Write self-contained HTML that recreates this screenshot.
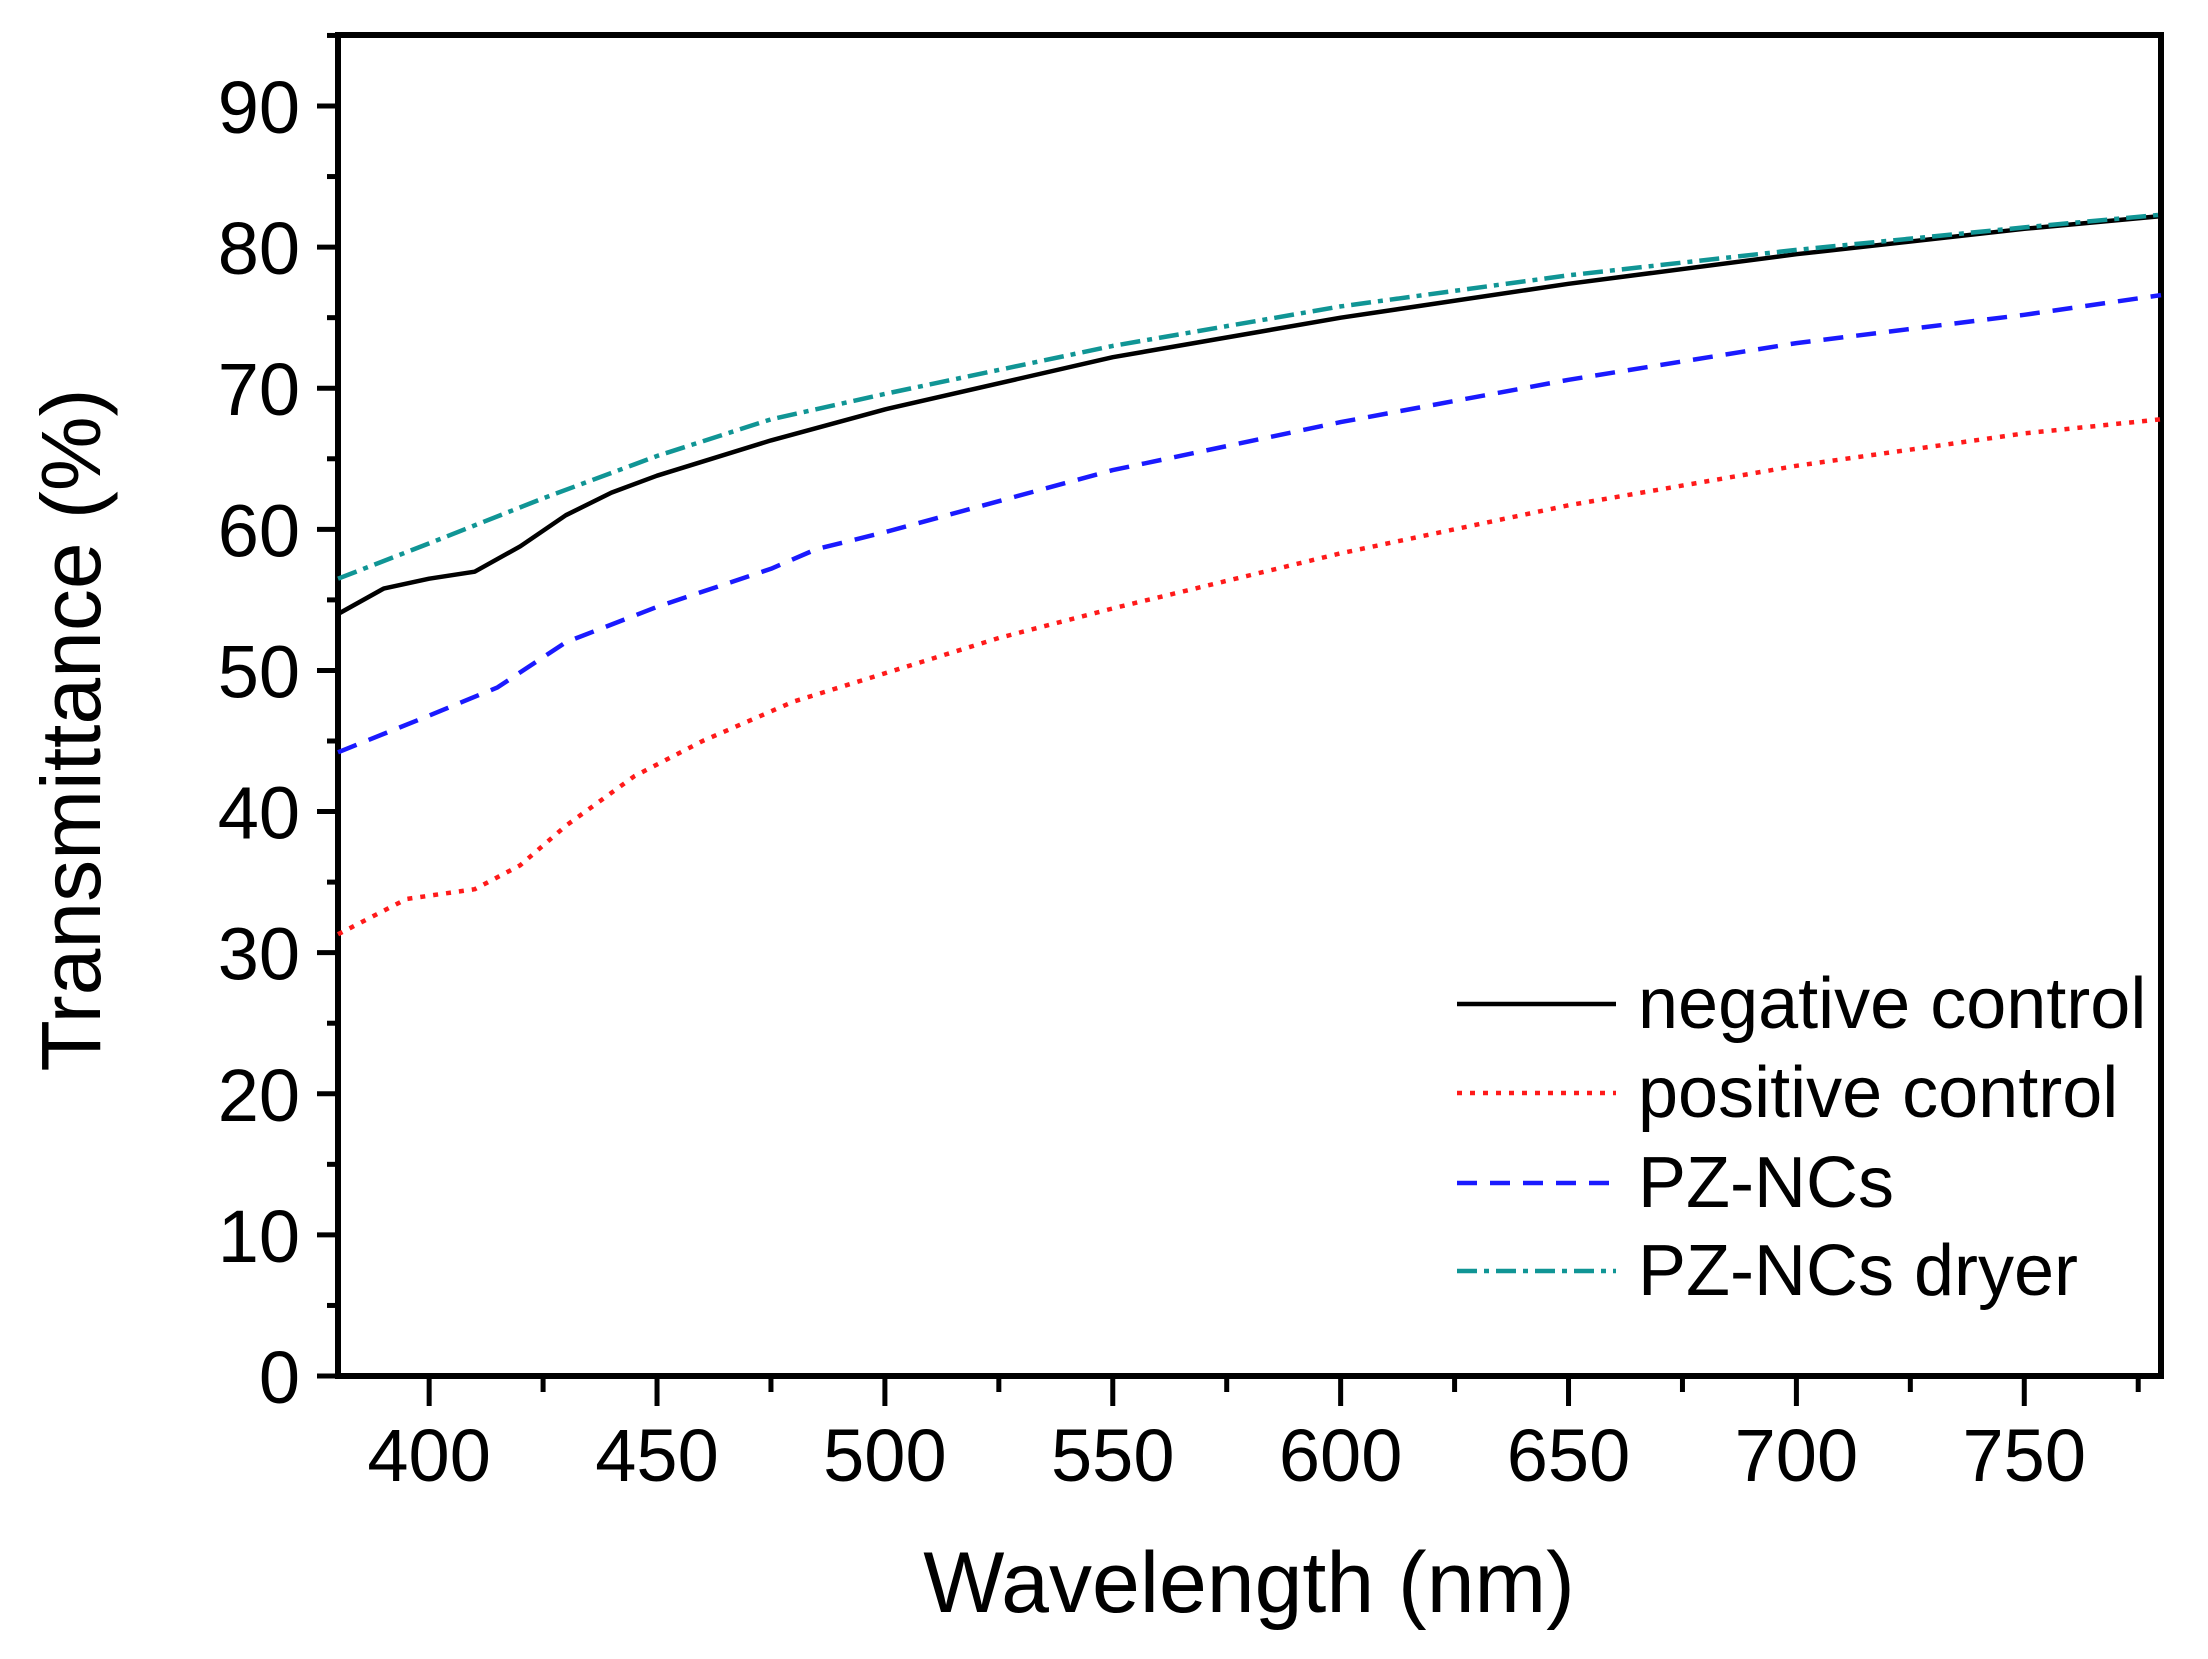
<!DOCTYPE html>
<html><head><meta charset="utf-8"><style>
html,body{margin:0;padding:0;background:#fff;}
svg{display:block;font-family:"Liberation Sans",Arial,sans-serif;}
</style></head><body>
<svg id="chart" width="2208" height="1659" viewBox="0 0 2208 1659">
<g id="axes"></g><g id="series"></g><g id="legend"></g>
<text x="1249" y="1612" font-size="86" text-anchor="middle">Wavelength (nm)</text>
<text x="0" y="0" font-size="84" text-anchor="middle" transform="translate(100,730) rotate(-90)">Transmittance (%)</text>
</svg>
<script>
const xTicks=[400,450,500,550,600,650,700,750];
const yTicks=[0,10,20,30,40,50,60,70,80,90];
const wlNeg=[380,390,400,410,420,430,440,450,475,500,550,600,650,700,750,780];
const negative=[54,55.8,56.5,57,58.8,61,62.6,63.8,66.3,68.5,72.2,75,77.4,79.5,81.3,82.2];
const wlDry=[380,400,425,450,475,500,550,600,650,700,750,780];
const dryer=[56.5,59,62.2,65.2,67.8,69.6,73,75.8,78,79.8,81.4,82.3];
const wlPz=[380,400,415,430,450,475,485,500,550,600,650,700,750,780];
const pzncs=[44.2,46.8,48.8,52,54.5,57.2,58.6,59.8,64.2,67.6,70.6,73.2,75.2,76.6];
const wlPos=[380,395,410,420,430,445,460,480,500,525,550,600,650,700,750,780];
const positive=[31.3,33.8,34.5,36.2,39,42.5,45,47.8,49.8,52.3,54.4,58.3,61.7,64.5,66.8,67.8];
const legendLabels=["negative control","positive control","PZ-NCs","PZ-NCs dryer"];

const L=338,R=2161,T=35,B=1376;
const xs=v=>L+(v-380)*(R-L)/400;
const ys=v=>B-v*(B-106)/90;
const NS="http://www.w3.org/2000/svg";
function mk(tag,attrs,parent){const e=document.createElementNS(NS,tag);for(const k in attrs)e.setAttribute(k,attrs[k]);parent.appendChild(e);return e;}
const ax=document.getElementById('axes');
const frame=mk('rect',{x:L,y:T,width:R-L,height:B-T,fill:'none',stroke:'#000','stroke-width':6},ax);


xTicks.forEach(t=>{
  const ln=mk('line',{x1:xs(t),x2:xs(t),y1:B,y2:B+30,stroke:'#000','stroke-width':5},ax);
  
  
  if(t+25<780){
  const m=mk('line',{x1:xs(t+25),x2:xs(t+25),y1:B,y2:B+16,stroke:'#000','stroke-width':5},ax);
  
  }
  const tx=mk('text',{x:xs(t),y:1481,'font-size':74,'text-anchor':'middle'},ax);
  tx.textContent=t;
  
  
});
yTicks.forEach(t=>{
  const ln=mk('line',{x1:L-21,x2:L,y1:ys(t),y2:ys(t),stroke:'#000','stroke-width':5},ax);
  
  
  const m=mk('line',{x1:L-11,x2:L,y1:ys(t+5),y2:ys(t+5),stroke:'#000','stroke-width':5},ax);
  
  
  const tx=mk('text',{x:300,y:ys(t)+27,'font-size':74,'text-anchor':'end'},ax);
  tx.textContent=t;
  
  
});
const sg=document.getElementById('series');
const styles=[
 {c:'#000',d:'none'},{c:'#ff1a1a',d:'5 8'},{c:'#1a1aff',d:'20 13'},{c:'#109595',d:'20 7 5 7'}];
const series=[[wlNeg,negative],[wlPos,positive],[wlPz,pzncs],[wlDry,dryer]];
const names=['negative-control-line','positive-control-line','pz-ncs-line','pz-ncs-dryer-line'];
series.forEach((s,i)=>{
  const pts=s[0].map((w,j)=>xs(w).toFixed(1)+','+ys(s[1][j]).toFixed(1)).join(' ');
  const p=mk('polyline',{points:pts,fill:'none',stroke:styles[i].c,'stroke-width':4.5,'stroke-dasharray':styles[i].d,'stroke-linejoin':'round'},sg);
  
  
});
const lg=document.getElementById('legend');
const rowsY=[1004,1093,1183,1271];
legendLabels.forEach((lab,i)=>{
  const ln=mk('line',{x1:1457,x2:1616,y1:rowsY[i],y2:rowsY[i],stroke:styles[i].c,'stroke-width':4.5,'stroke-dasharray':styles[i].d},lg);
  
  
  const tx=mk('text',{x:1638,y:rowsY[i]+24,'font-size':72},lg);
  tx.textContent=lab;
  
  
});
</script>
</body></html>
